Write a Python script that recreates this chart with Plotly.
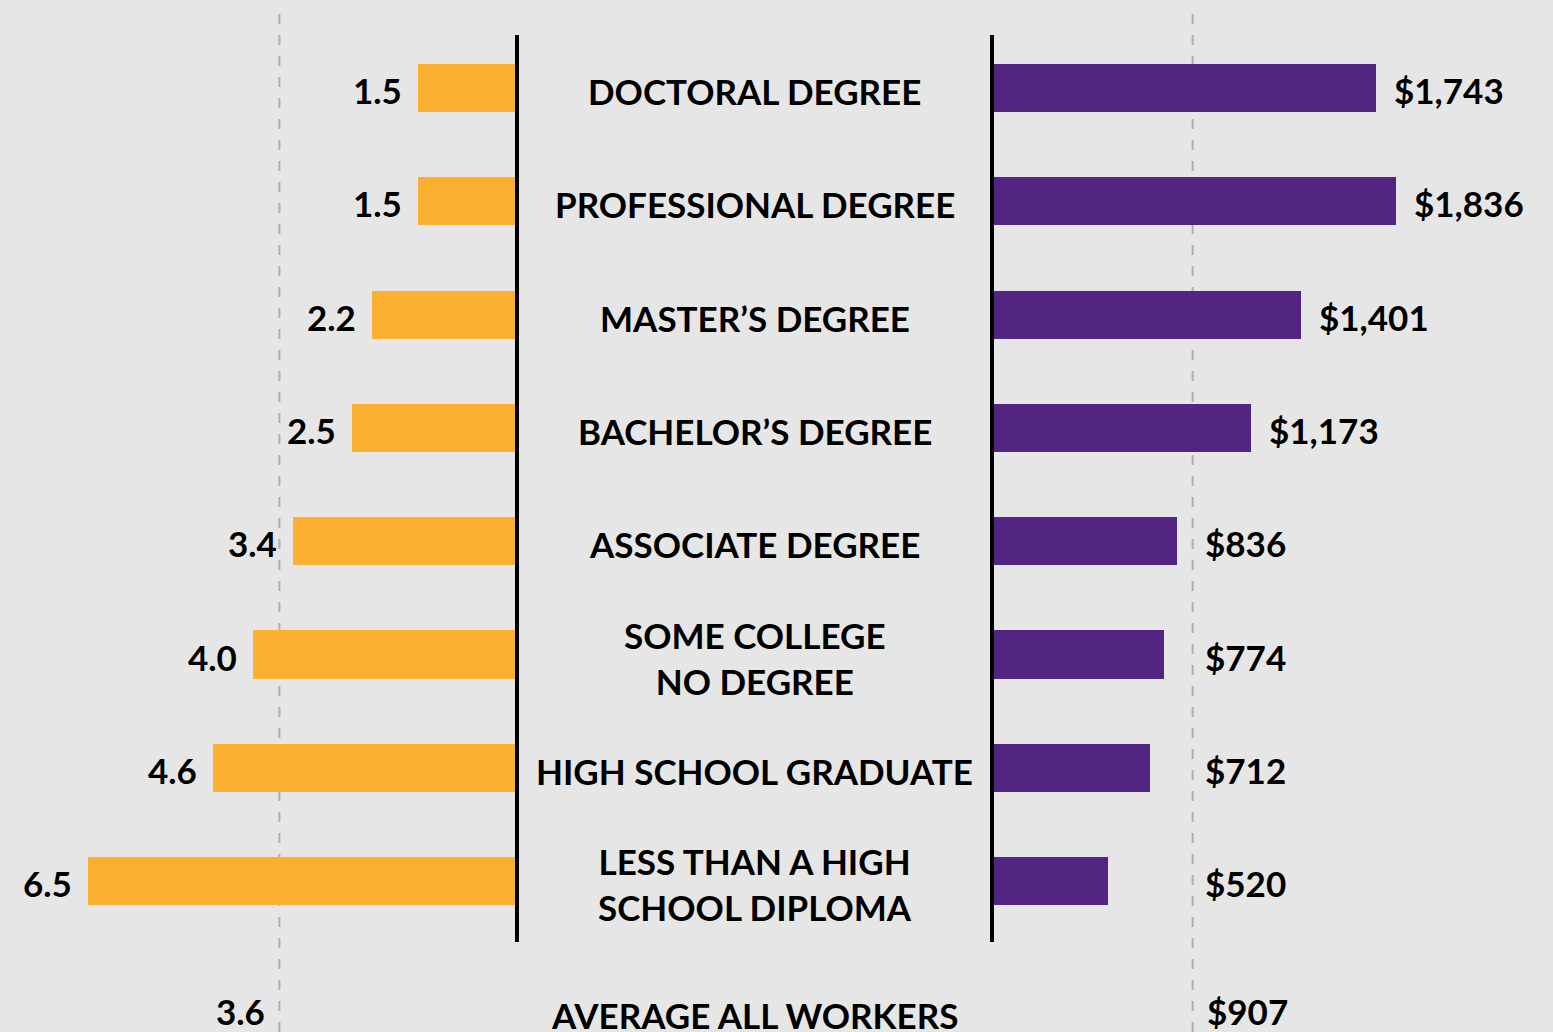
import plotly.graph_objects as go

categories = ["DOCTORAL DEGREE", "PROFESSIONAL DEGREE", "MASTER’S DEGREE", "BACHELOR’S DEGREE",
              "ASSOCIATE DEGREE", "SOME COLLEGE<br>NO DEGREE", "HIGH SCHOOL GRADUATE",
              "LESS THAN A HIGH<br>SCHOOL DIPLOMA"]
unemployment = [1.5, 1.5, 2.2, 2.5, 3.4, 4.0, 4.6, 6.5]
earnings = [1743, 1836, 1401, 1173, 836, 774, 712, 520]
avg_label = "AVERAGE ALL WORKERS"
avg_unemployment = 3.6
avg_earnings = 907

W, H = 1553, 1032
ORANGE = "#FBB034"
PURPLE = "#512581"
BG = "#E6E6E6"
FONT = dict(family="Lato, Open Sans, sans-serif", size=35, color="#000000", weight="bold")

rows = list(range(len(categories)))
row_px = 113.3
top_px = 88
y_range = [(H - top_px) / row_px, -top_px / row_px]

left_end = 517
right_start = 994
left_scale = 66.0      # px per unit
right_scale = 0.219    # px per dollar

fig = go.Figure()
fig.add_trace(go.Bar(x=unemployment, y=rows, orientation="h", xaxis="x", yaxis="y",
                     marker=dict(color=ORANGE, line=dict(width=0)), width=0.424,
                     hoverinfo="skip", showlegend=False))
fig.add_trace(go.Bar(x=earnings, y=rows, orientation="h", xaxis="x2", yaxis="y",
                     marker=dict(color=PURPLE, line=dict(width=0)), width=0.424,
                     hoverinfo="skip", showlegend=False))

annotations = []
for i, (c, u, e) in enumerate(zip(categories, unemployment, earnings)):
    annotations.append(dict(x=(left_end + 992) / 2 / W, xref="paper", y=i, yref="y", text=c,
                            showarrow=False, xanchor="center", yanchor="middle",
                            font=FONT, yshift=-3))
    annotations.append(dict(x=u, xref="x", y=i, yref="y", text=f"{u:.1f}",
                            showarrow=False, xanchor="right", yanchor="middle",
                            xshift=-14, font=FONT, yshift=-2))
    annotations.append(dict(x=max(e, avg_earnings), xref="x2", y=i, yref="y",
                            text=f"${e:,}", showarrow=False, xanchor="left",
                            yanchor="middle", xshift=10 if e < avg_earnings else 16,
                            font=FONT, yshift=-2))

avg_row = len(categories) + 0.15
annotations.append(dict(x=(left_end + 992) / 2 / W, xref="paper", y=avg_row, yref="y",
                        text=avg_label, showarrow=False, xanchor="center",
                        yanchor="middle", font=FONT, yshift=-4))
annotations.append(dict(x=avg_unemployment, xref="x", y=avg_row, yref="y",
                        text=f"{avg_unemployment:.1f}", showarrow=False, xanchor="right",
                        yanchor="middle", xshift=-12, font=FONT))
annotations.append(dict(x=avg_earnings, xref="x2", y=avg_row, yref="y",
                        text=f"${avg_earnings:,}", showarrow=False, xanchor="left",
                        yanchor="middle", xshift=12, font=FONT))

line_top = (35 - top_px) / row_px
line_bot = (942 - top_px) / row_px
shapes = [
    dict(type="line", xref="x", x0=avg_unemployment, x1=avg_unemployment, yref="paper",
         y0=0, y1=1 - 10 / H, line=dict(color="#AFAFAF", width=2, dash="10px,11px"), layer="below"),
    dict(type="line", xref="x2", x0=avg_earnings, x1=avg_earnings, yref="paper",
         y0=0, y1=1 - 10 / H, line=dict(color="#AFAFAF", width=2, dash="10px,11px"), layer="below"),
    dict(type="line", xref="paper", x0=left_end / W, x1=left_end / W, yref="y",
         y0=line_top, y1=line_bot, line=dict(color="#000000", width=4)),
    dict(type="line", xref="paper", x0=992 / W, x1=992 / W, yref="y",
         y0=line_top, y1=line_bot, line=dict(color="#000000", width=4)),
]

fig.update_layout(
    width=W, height=H,
    margin=dict(l=0, r=0, t=0, b=0),
    paper_bgcolor=BG, plot_bgcolor=BG,
    bargap=0,
    xaxis=dict(domain=[0, left_end / W], range=[left_end / left_scale, 0],
               visible=False, fixedrange=True),
    xaxis2=dict(domain=[right_start / W, 1], range=[0, (W - right_start) / right_scale],
                visible=False, fixedrange=True, anchor="y"),
    yaxis=dict(range=y_range, visible=False, fixedrange=True),
    annotations=annotations,
    shapes=shapes,
)

fig.write_html("out.html")
